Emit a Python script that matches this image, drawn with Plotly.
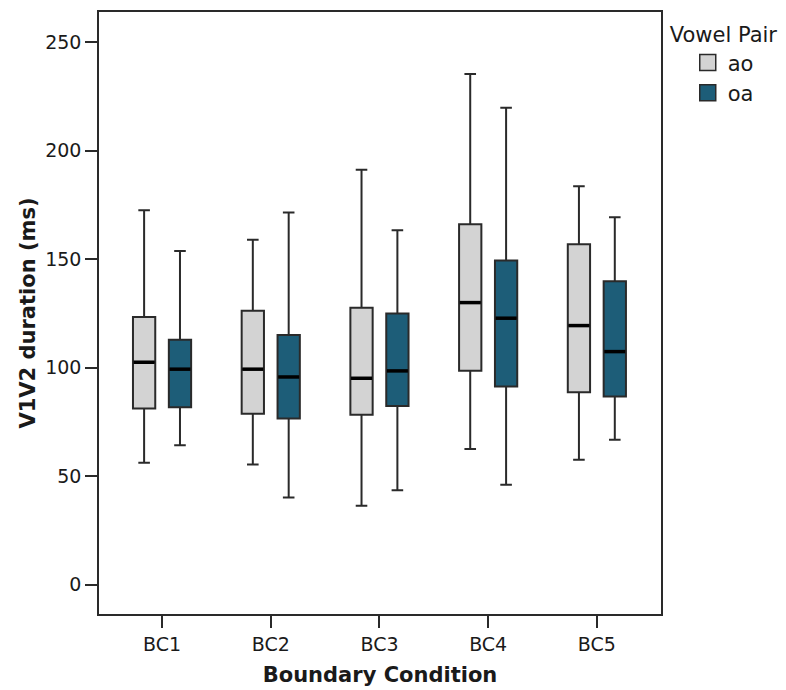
import plotly.graph_objects as go

categories = ["BC1", "BC2", "BC3", "BC4", "BC5"]
series_names = ["ao", "oa"]

ao_lower = [56.2, 55.3, 36.3, 62.5, 57.5]
ao_q1 = [81.2, 78.7, 78.3, 98.6, 88.6]
ao_median = [102.5, 99.3, 95.1, 130.0, 119.4]
ao_q3 = [123.3, 126.2, 127.6, 166.1, 156.9]
ao_upper = [172.6, 159.0, 191.3, 235.4, 183.7]

oa_lower = [64.2, 40.1, 43.5, 46.0, 66.7]
oa_q1 = [81.7, 76.6, 82.3, 91.3, 86.7]
oa_median = [99.3, 95.7, 98.5, 122.8, 107.4]
oa_q3 = [112.9, 115.0, 125.0, 149.4, 139.8]
oa_upper = [153.8, 171.6, 163.4, 219.9, 169.3]

y_ticks = [0, 50, 100, 150, 200, 250]

FONT = "DejaVu Sans"
TEXT = "#1a1a1a"
LINE = "#2a2a2a"
colors = {"ao": "#d3d3d3", "oa": "#1d5d78"}
offsets = {"ao": -0.165, "oa": 0.165}
BOX_W = 0.205

stats = {
    "ao": (ao_lower, ao_q1, ao_median, ao_q3, ao_upper),
    "oa": (oa_lower, oa_q1, oa_median, oa_q3, oa_upper),
}

fig = go.Figure()
for name in series_names:
    lo, q1, med, q3, up = stats[name]
    xs = [i + offsets[name] for i in range(len(categories))]
    fig.add_trace(go.Box(
        name=name, x=xs, q1=q1, median=med, q3=q3,
        lowerfence=lo, upperfence=up,
        width=BOX_W, whiskerwidth=0.52,
        fillcolor=colors[name],
        line=dict(color=LINE, width=2),
        boxpoints=False, showlegend=False, hoverinfo="y",
    ))
    # thick median bars
    mx, my = [], []
    for x, m in zip(xs, med):
        mx += [x - BOX_W / 2 + 0.006, x + BOX_W / 2 - 0.006, None]
        my += [m, m, None]
    fig.add_trace(go.Scatter(
        x=mx, y=my, mode="lines", line=dict(color="#000000", width=3.5),
        showlegend=False, hoverinfo="skip",
    ))

# legend entries
for name in series_names:
    fig.add_trace(go.Scatter(
        x=[None], y=[None], mode="markers", name=name,
        marker=dict(symbol="square", size=16, color=colors[name],
                    line=dict(color=LINE, width=1.5)),
    ))

# the page body adds an 8px offset; margins compensate so the frame sits at 99..661 x 10..614
fig.update_layout(
    width=786, height=690,
    margin=dict(l=91, r=133, t=2, b=84),
    paper_bgcolor="white", plot_bgcolor="white",
    font=dict(family=FONT, size=19, color=TEXT),
    boxmode="overlay",
    legend=dict(
        title=dict(text="Vowel Pair", font=dict(size=21, color=TEXT)),
        x=1.012, xanchor="left", y=0.995, yanchor="top",
        font=dict(size=21, color=TEXT),
        itemsizing="trace", indentation=20,
        tracegroupgap=0, bgcolor="rgba(0,0,0,0)",
    ),
    xaxis=dict(
        range=[-0.58, 4.59], tickmode="array",
        tickvals=list(range(len(categories))), ticktext=categories,
        ticks="outside", ticklen=12, tickwidth=1.5, tickcolor=LINE,
        showline=True, linecolor=LINE, linewidth=1.5, mirror=True,
        showgrid=False, zeroline=False,
        tickfont=dict(size=19, color=TEXT),
        title=dict(text="<b>Boundary Condition</b>", font=dict(size=21, color=TEXT), standoff=14),
    ),
    yaxis=dict(
        range=[-13.6, 264], tickmode="array", tickvals=y_ticks,
        ticks="outside", ticklen=12, tickwidth=1.5, tickcolor=LINE,
        showline=True, linecolor=LINE, linewidth=1.5, mirror=True,
        showgrid=False, zeroline=False,
        tickfont=dict(size=19, color=TEXT),
        title=dict(text="<b>V1V2 duration (ms)</b>", font=dict(size=21, color=TEXT), standoff=4),
    ),
)

fig.write_html("out.html")
